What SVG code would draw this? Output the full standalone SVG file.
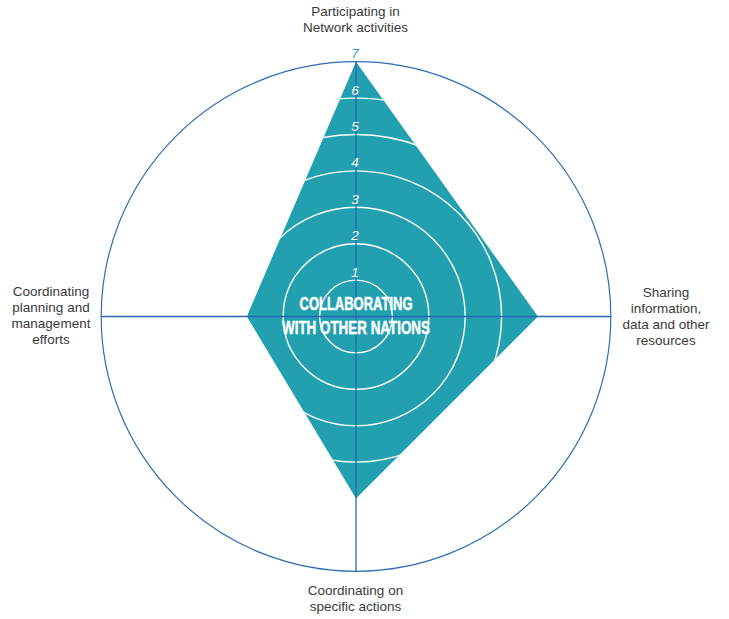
<svg xmlns="http://www.w3.org/2000/svg" width="729" height="619" viewBox="0 0 729 619">
<style>
.lbl{font-family:"Liberation Sans","Noto Sans",Arial,sans-serif;font-size:13.5px;fill:#3a3a3a;text-anchor:middle}
.num{font-family:"Liberation Sans","Noto Sans",Arial,sans-serif;font-size:13.5px;font-style:italic;fill:#ffffff;text-anchor:middle}
.ring{fill:none;stroke:#ffffff;stroke-width:1.4}
.axis{stroke:#2a66b4;stroke-width:1.3;fill:none}
.title{font-family:"Liberation Sans","Noto Sans",Arial,sans-serif;font-weight:bold;font-size:18.5px;fill:#ffffff;stroke:#ffffff;stroke-width:0.5;text-anchor:middle}
</style>
<defs>
<clipPath id="polyClip">
<polygon points="356,61.7 538,316.5 356,498.5 246.8,316.5"/>
</clipPath>
</defs>
<rect width="729" height="619" fill="#ffffff"/>
<g id="chart">
<circle cx="356" cy="316.5" r="254.8" fill="none" stroke="#2f6db5" stroke-width="1.2"/>
<polygon id="data" points="356,61.7 538,316.5 356,498.5 246.8,316.5" fill="#22a0b0"/>
<g id="rings" clip-path="url(#polyClip)">
<circle class="ring" cx="356" cy="316.5" r="36.4"/>
<circle class="ring" cx="356" cy="316.5" r="72.8"/>
<circle class="ring" cx="356" cy="316.5" r="109.2"/>
<circle class="ring" cx="356" cy="316.5" r="145.6"/>
<circle class="ring" cx="356" cy="316.5" r="182"/>
<circle class="ring" cx="356" cy="316.5" r="218.4"/>
</g>
</g>
<g id="connectors">
<line class="axis" x1="101.2" y1="316.5" x2="610.8" y2="316.5"/>
<line class="axis" x1="356" y1="61.7" x2="356" y2="571.3"/>
</g>
<g id="scale">
<text class="num" x="355" y="276.5">1</text>
<text class="num" x="355" y="240">2</text>
<text class="num" x="355" y="203.7">3</text>
<text class="num" x="355" y="167.3">4</text>
<text class="num" x="355" y="131">5</text>
<text class="num" x="355" y="94.5">6</text>
<text class="num" x="355" y="58" style="fill:#2aa3b6">7</text>
</g>
<g id="center-title">
<text class="title" x="356" y="310" textLength="113" lengthAdjust="spacingAndGlyphs">COLLABORATING</text>
<text class="title" x="356" y="333.5" textLength="148" lengthAdjust="spacingAndGlyphs">WITH OTHER NATIONS</text>
</g>
<g id="node-top">
<text class="lbl" x="355.5" y="15.5">Participating in</text>
<text class="lbl" x="355.5" y="32">Network activities</text>
</g>
<g id="node-right">
<text class="lbl" x="666" y="297">Sharing</text>
<text class="lbl" x="666" y="313">information,</text>
<text class="lbl" x="666" y="329">data and other</text>
<text class="lbl" x="666" y="345">resources</text>
</g>
<g id="node-bottom">
<text class="lbl" x="355.5" y="595">Coordinating on</text>
<text class="lbl" x="355.5" y="611">specific actions</text>
</g>
<g id="node-left">
<text class="lbl" x="51" y="296">Coordinating</text>
<text class="lbl" x="51" y="312">planning and</text>
<text class="lbl" x="51" y="328">management</text>
<text class="lbl" x="51" y="344">efforts</text>
</g>
</svg>
